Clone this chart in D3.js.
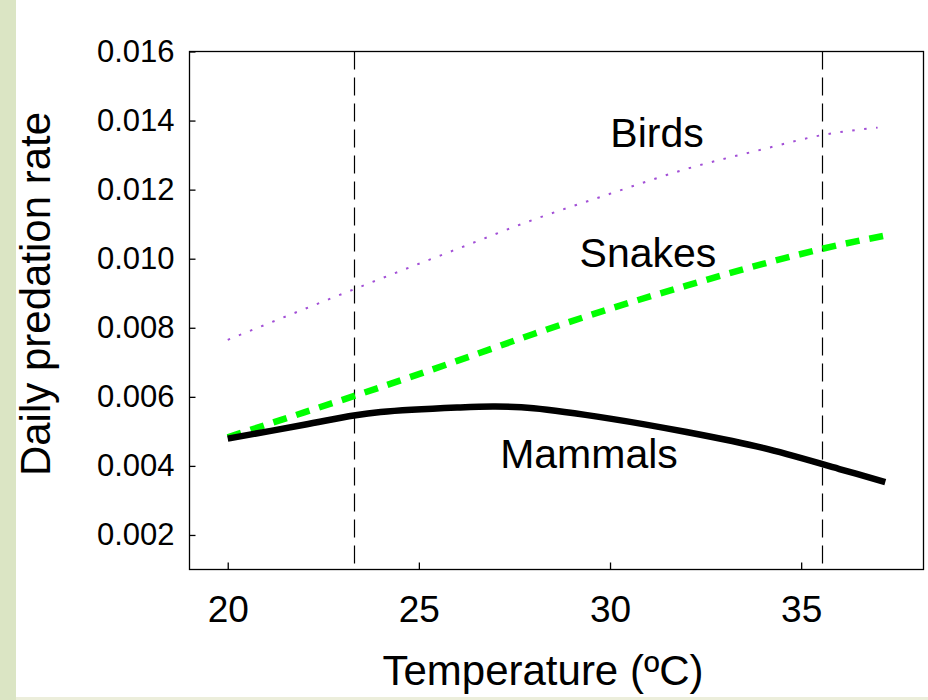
<!DOCTYPE html>
<html>
<head>
<meta charset="utf-8">
<script src="https://cdn.jsdelivr.net/npm/d3@7"></script>
<style>
  body { margin: 0; background: #fff; }
  text { font-family: "Liberation Sans", Arial, sans-serif; fill: #000; }
</style>
</head>
<body>
<div id="chart"></div>
<script>
// data
const xTicks = [20, 25, 30, 35];
const yTicks = [0.002, 0.004, 0.006, 0.008, 0.010, 0.012, 0.014, 0.016];
const thresholds = [23.32, 35.56];

const birdTemps = [20, 22, 24, 26, 28, 30, 32, 34, 35.5, 37];
const birdRates = [0.00765, 0.00854, 0.00942, 0.01028, 0.01113, 0.01188, 0.0126, 0.01317, 0.01357, 0.0138];

const snakeTemps = [20, 22, 24, 26, 28, 30, 32, 34, 36, 37.2];
const snakeRates = [0.00483, 0.00555, 0.00628, 0.00704, 0.00782, 0.00855, 0.00922, 0.00985, 0.0104, 0.01067];

const mammalTemps = [20, 22, 23.3, 24, 26, 27, 28, 30, 32, 34, 36, 37.2];
const mammalRates = [0.00479, 0.00519, 0.00546, 0.00556, 0.00569, 0.00572, 0.00567, 0.00537, 0.00498, 0.00452, 0.00391, 0.00353];

const seriesLabels = ["Birds", "Snakes", "Mammals"];

// dimensions
const W = 928, H = 700;
const margin = {top: 51, right: 5, bottom: 131, left: 189};
const width = W - margin.left - margin.right;
const height = H - margin.top - margin.bottom;

const root = d3.select("#chart")
  .append("svg")
    .attr("width", W)
    .attr("height", H);

// slide background strips
root.append("rect").attr("x", 0).attr("y", 0).attr("width", 16).attr("height", H).attr("fill", "#dbe5c4");
root.append("rect").attr("x", 16).attr("y", 697).attr("width", W - 16).attr("height", 3).attr("fill", "#eceedb");

const svg = root.append("g")
    .attr("transform", `translate(${margin.left + 0.5}, ${margin.top + 0.5})`);

const x = d3.scaleLinear().domain([19, 38.2]).range([0, width]);
const y = d3.scaleLinear().domain([0.001, 0.016]).range([height, 0]);

// threshold lines
svg.selectAll(".thr")
  .data(thresholds)
  .join("line")
    .attr("class", "thr")
    .attr("x1", d => Math.round(x(d))).attr("x2", d => Math.round(x(d)))
    .attr("y1", 0).attr("y2", height)
    .attr("stroke", "#000")
    .attr("stroke-width", 1.2)
    .attr("stroke-dasharray", "18,8");

const line = d3.line().curve(d3.curveMonotoneX).x(d => x(d[0])).y(d => y(d[1]));

// birds (dotted)
svg.append("path")
  .datum(d3.zip(birdTemps, birdRates))
  .attr("d", line)
  .attr("fill", "none")
  .attr("stroke", "#a24fd6")
  .attr("stroke-width", 2)
  .attr("stroke-dasharray", "2.5,9.5");

// snakes (green dashes)
svg.append("path")
  .datum(d3.zip(snakeTemps, snakeRates))
  .attr("d", line)
  .attr("fill", "none")
  .attr("stroke", "#00ff00")
  .attr("stroke-width", 6.5)
  .attr("stroke-dasharray", "14,10");

// mammals (solid black)
svg.append("path")
  .datum(d3.zip(mammalTemps, mammalRates))
  .attr("d", line.curve(d3.curveCatmullRom))
  .attr("fill", "none")
  .attr("stroke", "#000")
  .attr("stroke-width", 6.5);

// frame
svg.append("rect")
  .attr("width", Math.round(width)).attr("height", Math.round(height))
  .attr("fill", "none").attr("stroke", "#000").attr("stroke-width", 1.3);

// axes
const xAxis = svg.append("g")
  .attr("transform", `translate(0, ${height})`)
  .call(d3.axisBottom(x).tickValues(xTicks).tickSizeInner(-7).tickSizeOuter(0));
xAxis.select(".domain").remove();
xAxis.selectAll("line").attr("stroke-width", 1.3);
xAxis.selectAll("text").style("font-size", "37px").attr("dy", "0.71em").attr("y", 26);

const yAxis = svg.append("g")
  .call(d3.axisLeft(y).tickValues(yTicks).tickFormat(d3.format(".3f")).tickSizeInner(-6).tickSizeOuter(0).tickPadding(15));
yAxis.select(".domain").remove();
yAxis.selectAll("line").attr("stroke-width", 1.3);
yAxis.selectAll("text").style("font-size", "31px");
svg.selectAll(".tick text").attr("fill", "#000");

// series labels
const labelPos = [[657, 147], [648, 267], [589, 468]];
root.selectAll(".series-label")
  .data(seriesLabels)
  .join("text")
    .attr("class", "series-label")
    .attr("x", (d, i) => labelPos[i][0])
    .attr("y", (d, i) => labelPos[i][1])
    .attr("text-anchor", "middle")
    .style("font-size", "41px")
  .text(d => d);

// axis titles
root.append("text")
  .attr("x", 543).attr("y", 685)
  .attr("text-anchor", "middle")
  .style("font-size", "42px")
  .text("Temperature (ºC)");

root.append("text")
  .attr("transform", "translate(50, 294) rotate(-90)")
  .attr("text-anchor", "middle")
  .style("font-size", "42px")
  .text("Daily predation rate");
</script>
</body>
</html>
